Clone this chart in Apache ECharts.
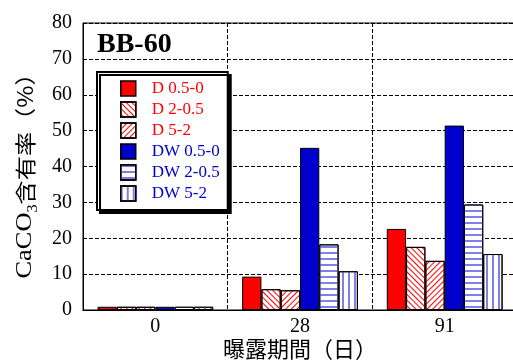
<!DOCTYPE html>
<html><head><meta charset="utf-8">
<script src="https://cdn.jsdelivr.net/npm/echarts@6/dist/echarts.min.js"></script>
<style>html,body{margin:0;padding:0;background:#fff}#c{width:513px;height:360px}</style>
</head><body><div id="c"></div>
<script>
const categories = ['0', '28', '91'];
const seriesNames = ['D 0.5-0', 'D 2-0.5', 'D 5-2', 'DW 0.5-0', 'DW 2-0.5', 'DW 5-2'];
const d05_0 = [0.9, 9.3, 22.6];
const d2_05 = [0.9, 5.8, 17.6];
const d5_2 = [0.9, 5.5, 13.7];
const dw05_0 = [0.9, 45.2, 51.4];
const dw2_05 = [0.9, 18.3, 29.4];
const dw5_2 = [0.9, 10.8, 15.6];
const yTicks = [0, 10, 20, 30, 40, 50, 60, 70, 80];

const values = [d05_0, d2_05, d5_2, dw05_0, dw2_05, dw5_2];
const RED = '#ff0000', BLUE = '#0000cc', LBLUE = '#7f7fe8';
const serif = 'Liberation Serif';
const cjk = 'Noto Sans CJK JP';

const styles = [
  { color: RED },
  { color: '#fff', decal: { symbol: 'rect', symbolSize: 1, dashArrayX: [1, 0], dashArrayY: [1, 3], rotation: Math.PI / 4, color: RED } },
  { color: '#fff', decal: { symbol: 'rect', symbolSize: 1, dashArrayX: [1, 0], dashArrayY: [1, 3], rotation: -Math.PI / 4, color: RED } },
  { color: BLUE },
  { color: '#fff', decal: { symbol: 'rect', symbolSize: 1, dashArrayX: [1, 0], dashArrayY: [2, 4], rotation: 0, color: LBLUE } },
  { color: '#fff', decal: { symbol: 'rect', symbolSize: 1, dashArrayX: [2, 4], dashArrayY: [1, 0], rotation: 0, color: LBLUE } }
];

const chart = echarts.init(document.getElementById('c'), null, { renderer: 'canvas' });
chart.setOption({
  animation: false,
  aria: { enabled: false },
  title: {
    text: 'BB-60', left: 92, top: 26,
    textStyle: { fontFamily: serif, fontSize: 28, fontWeight: 'bold', color: '#000' }
  },
  grid: { left: 83, top: 23, width: 434, height: 287, show: true, borderColor: '#000', borderWidth: 1,
    backgroundColor: 'transparent', containLabel: false, outerBoundsMode: 'none' },
  legend: {
    orient: 'vertical', left: 97, top: 72,
    padding: [8, 8, 8, 23],
    itemWidth: 15, itemHeight: 15, itemGap: 4,
    backgroundColor: '#fff', borderColor: '#000', borderWidth: 2,
    shadowColor: '#000', shadowBlur: 0, shadowOffsetX: 3, shadowOffsetY: 3,
    itemStyle: { borderColor: '#000', borderWidth: 1.5 },
    textStyle: { fontFamily: serif, fontSize: 17, lineHeight: 15, padding: [0, 0, 0, 11] },
    data: seriesNames.map((n, i) => ({ name: n, icon: 'rect', textStyle: { color: i < 3 ? RED : BLUE } }))
  },
  xAxis: {
    type: 'category', data: categories,
    axisLine: { lineStyle: { color: '#000', width: 1 } },
    axisTick: { show: false },
    axisLabel: { fontFamily: serif, fontSize: 20, color: '#000', margin: 7 },
    splitLine: { show: true, lineStyle: { color: '#000', type: [4, 2], width: 1 } },
    name: '曝露期間（日）', nameLocation: 'middle', nameGap: 28, nameMoveOverlap: false,
    nameTextStyle: { fontFamily: cjk, fontSize: 22, color: '#000' }
  },
  yAxis: {
    type: 'value', min: 0, max: 80, interval: 10,
    axisLine: { show: true, lineStyle: { color: '#000', width: 1 } },
    axisTick: { show: false },
    axisLabel: { fontFamily: serif, fontSize: 20, color: '#000', margin: 11,
      formatter: v => yTicks.includes(v) ? String(v) : '' },
    splitLine: { show: true, lineStyle: { color: '#000', type: [4, 2], width: 1 } }
  },
  graphic: [{
    type: 'text', x: 25, y: 170, rotation: Math.PI / 2, scaleX: 1.15, scaleY: 1,
    style: {
      text: '{a|CaCO}{s|3}{b|含有率}{c|（%）}',
      align: 'center', verticalAlign: 'middle',
      fill: '#000',
      rich: {
        a: { fontFamily: serif, fontSize: 23, lineHeight: 30, verticalAlign: 'middle', fill: '#000' },
        s: { fontFamily: serif, fontSize: 14, lineHeight: 14, verticalAlign: 'bottom', fill: '#000' },
        b: { fontFamily: cjk, fontSize: 21, lineHeight: 30, verticalAlign: 'middle', fill: '#000' },
        c: { fontFamily: cjk, fontSize: 21, lineHeight: 30, verticalAlign: 'middle', fill: '#000' }
      }
    }
  }],
  series: values.map((vals, i) => ({
    name: seriesNames[i], type: 'bar', data: vals,
    barGap: '0%', barCategoryGap: '20%',
    itemStyle: Object.assign({ borderColor: '#000', borderWidth: 1 }, styles[i])
  }))
});
</script></body></html>
